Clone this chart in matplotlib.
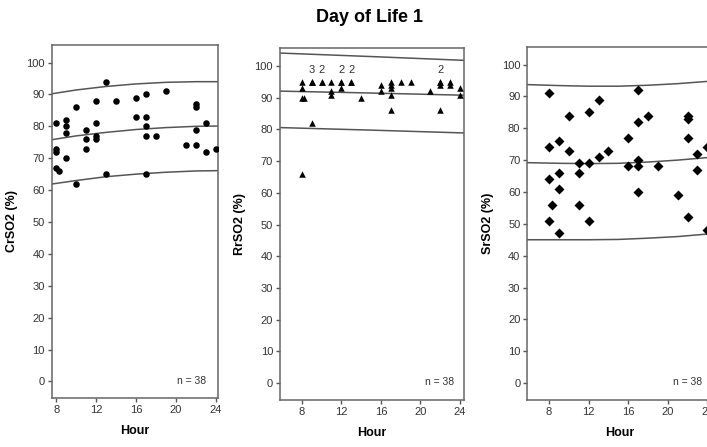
import numpy as np
import pandas as pd
import matplotlib
matplotlib.use('Agg')
import matplotlib.pyplot as plt

plt.rcParams['font.family'] = ['Liberation Sans', 'DejaVu Sans']

# CrSO2 scatter (hour, value)
cr_hour = [8, 8, 8, 8, 8.25, 9, 9, 9, 9, 10, 10, 11, 11, 11, 12, 12, 12, 12, 13, 13,
           14, 16, 16, 17, 17, 17, 17, 17, 18, 19, 21, 22, 22, 22, 22, 23, 23, 24]
cr_value = [81, 73, 72, 67, 66, 82, 80, 78, 70, 86, 62, 79, 76, 73, 88, 81, 77, 76, 94, 65,
            88, 89, 83, 90, 83, 80, 77, 65, 77, 91, 74, 87, 86, 79, 74, 81, 72, 73]

# RrSO2 scatter
rr_hour = [8, 8, 8, 8.27, 8, 9, 9, 9, 9, 10, 10, 11, 11, 11, 12, 12, 12, 13, 13,
           14, 16, 16, 17, 17, 17, 17, 17, 18, 19, 21, 22, 22, 22, 22, 23, 23, 24, 24]
rr_value = [95, 93, 90, 90, 66, 95, 95, 95, 82, 95, 95, 95, 92, 91, 95, 95, 93, 95, 95,
            90, 94, 92, 95, 94, 93, 91, 86, 95, 95, 92, 95, 95, 94, 86, 95, 94, 93, 91]

# SrSO2 scatter
sr_hour = [8, 8, 8, 8.3, 8, 9, 9, 9, 9, 10, 10, 11, 11, 11, 12, 12, 12, 13, 13,
           14, 16, 16, 17, 17, 17, 17, 17, 18, 19, 21, 22, 22, 22, 22, 23, 23, 24, 24]
sr_value = [91, 74, 64, 56, 51, 76, 66, 61, 47, 84, 73, 69, 66, 56, 85, 69, 51, 89, 71,
            73, 77, 68, 92, 82, 70, 68, 60, 84, 68, 59, 84, 83, 77, 52, 72, 67, 74, 48]

# fit line and interval
cr_line_hour = [7.55, 10, 13, 16, 19, 22, 24.2]
cr_upper = [90.2, 91.4, 92.5, 93.3, 93.8, 94.0, 94.0]
cr_mid = [75.8, 77.0, 78.1, 79.0, 79.6, 80.0, 80.1]
cr_lower = [61.9, 63.0, 64.2, 65.0, 65.6, 66.0, 66.1]

rr_line_hour = [5.8, 15, 24.43]
rr_upper = [104.1, 103.0, 101.8]
rr_mid = [92.1, 91.5, 90.8]
rr_lower = [80.6, 79.8, 78.9]

sr_line_hour = [5.8, 9, 12, 15, 18, 21, 24.4]
sr_upper = [93.7, 93.4, 93.2, 93.2, 93.5, 94.0, 94.8]
sr_mid = [69.2, 69.0, 68.9, 69.0, 69.4, 70.0, 70.9]
sr_lower = [45.0, 45.0, 45.0, 45.1, 45.5, 46.0, 46.9]

xticks = [8, 12, 16, 20, 24]
yticks = [0, 10, 20, 30, 40, 50, 60, 70, 80, 90, 100]

W, H = 707, 447
fig = plt.figure(figsize=(W / 100, H / 100), dpi=100)


def px_axes(left, top, right, bottom):
    return fig.add_axes([left / W, 1 - bottom / H, (right - left) / W, (bottom - top) / H])


panels = [
    (px_axes(51.7, 44.7, 217.8, 398.3), cr_hour, cr_value, 'o', 22, (7.55, 24.2),
     cr_line_hour, (cr_upper, cr_mid, cr_lower), 'CrSO2 (%)', 0.93),
    (px_axes(280, 48.3, 464.3, 400), rr_hour, rr_value, '^', 22, (5.8, 24.43),
     rr_line_hour, (rr_upper, rr_mid, rr_lower), 'RrSO2 (%)', 0.944),
    (px_axes(527.3, 46.7, 711.6, 400), sr_hour, sr_value, 'D', 26, (5.8, 24.43),
     sr_line_hour, (sr_upper, sr_mid, sr_lower), 'SrSO2 (%)', 0.948),
]

for ax, hx, vy, mk, ms, xl, lh, lines, ylab, nx in panels:
    for ln in lines:
        ax.plot(lh, ln, color='#555555', lw=1.1, zorder=2)
    ax.scatter(hx, vy, marker=mk, s=ms, color='black', lw=0, zorder=3)
    ax.set_xlim(*xl)
    ax.set_ylim(-5.3, 105.6)
    ax.set_xticks(xticks)
    ax.set_yticks(yticks)
    ax.tick_params(direction='out', length=3, width=1, color='#555555',
                   labelsize=8, labelcolor='#333333', pad=2)
    for sp in ax.spines.values():
        sp.set_color('#666666')
        sp.set_linewidth(1.1)
    ax.set_ylabel(ylab, fontsize=9, fontweight='bold', labelpad=6)
    ax.set_xlabel('Hour', fontsize=9, fontweight='bold', labelpad=7)
    ax.text(nx, 0.05, 'n = 38', transform=ax.transAxes, ha='right', va='center',
            fontsize=7.5, color='#333333')

# counts of overlapping points in the RrSO2 panel
rr = pd.DataFrame({'hour': rr_hour, 'value': rr_value})
dup = rr.groupby(['hour', 'value']).size().reset_index(name='n')
for h, v, n in dup[dup['n'] > 1].itertuples(index=False):
    panels[1][0].annotate(str(int(n)), (h, v), xytext=(0, 5),
                          textcoords='offset points', ha='center', va='bottom',
                          fontsize=8, color='#333333')

fig.text(370 / W, 1 - 18 / H, 'Day of Life 1', ha='center', va='center',
         fontsize=13, fontweight='bold')

fig.savefig('out.png', dpi=100)
